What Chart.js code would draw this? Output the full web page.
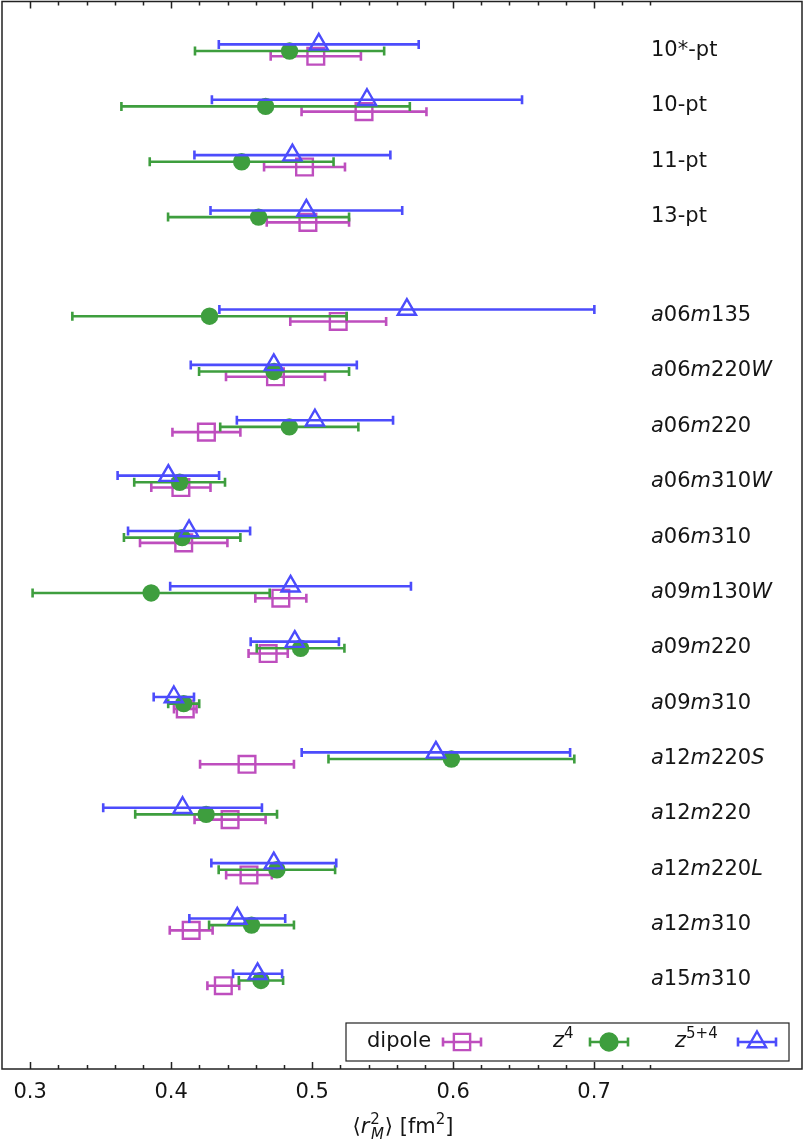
<!DOCTYPE html>
<html>
<head>
<meta charset="utf-8">
<script src="https://cdn.jsdelivr.net/npm/chart.js@4.4.0/dist/chart.umd.min.js"></script>
<style>
html, body { margin: 0; padding: 0; background: #fff; }
#grafico-wrap { width: 806px; height: 1141px; }
</style>
</head>
<body>
<div id="grafico-wrap"><canvas id="graficoRaio" width="806" height="1141" style="width:806px; height:1141px"></canvas></div>
<script>
// ensembles e posicao de cada linha (de cima para baixo)
var ensembles = ['10*-pt', '10-pt', '11-pt', '13-pt', 'a06m135', 'a06m220W', 'a06m220', 'a06m310W',
    'a06m310', 'a09m130W', 'a09m220', 'a09m310', 'a12m220S', 'a12m220', 'a12m220L', 'a12m310', 'a15m310'];
var linhas = [0, 1, 2, 3, 4.79, 5.79, 6.79, 7.79, 8.79, 9.79, 10.79, 11.79, 12.79, 13.79, 14.79, 15.79, 16.79];

var dipoleVal = [0.5026, 0.5368, 0.4946, 0.497, 0.5185, 0.474, 0.425, 0.4069, 0.4089, 0.4778, 0.4688, 0.41, 0.4538, 0.4418, 0.4552, 0.4142, 0.437];
var dipoleErr = [0.032, 0.0443, 0.0287, 0.0292, 0.034, 0.0351, 0.0241, 0.021, 0.031, 0.0181, 0.0139, 0.008, 0.0333, 0.0252, 0.0162, 0.0152, 0.0113];

var z4Val = [0.484, 0.467, 0.45, 0.462, 0.4272, 0.473, 0.4838, 0.406, 0.4078, 0.3858, 0.4918, 0.4089, 0.5988, 0.4248, 0.475, 0.457, 0.4637];
var z4Err = [0.0671, 0.1023, 0.0652, 0.0642, 0.0973, 0.0532, 0.049, 0.0322, 0.0413, 0.0841, 0.0311, 0.011, 0.0872, 0.0503, 0.0413, 0.0301, 0.0157];

var z54Val = [0.5047, 0.5389, 0.486, 0.4959, 0.5672, 0.4728, 0.502, 0.398, 0.4127, 0.4847, 0.4877, 0.4019, 0.5878, 0.4081, 0.4728, 0.4469, 0.4613];
var z54Err = [0.0709, 0.110, 0.0695, 0.068, 0.133, 0.0589, 0.0554, 0.036, 0.0433, 0.0854, 0.0313, 0.0143, 0.0952, 0.0563, 0.0443, 0.034, 0.0174];

var ticksMaiores = [0.3, 0.4, 0.5, 0.6, 0.7];
var rotulosTicks = ['0.3', '0.4', '0.5', '0.6', '0.7'];
var ticksMenores = [0.32, 0.34, 0.36, 0.38, 0.42, 0.44, 0.46, 0.48, 0.52, 0.54, 0.56, 0.58, 0.62, 0.64, 0.66, 0.68, 0.72, 0.74];

var COR_DIPOLE = 'rgb(190,78,190)';
var COR_Z4 = 'rgb(62,158,62)';
var COR_Z54 = 'rgb(76,76,252)';
var FONTE = 'DejaVu Sans';
var COR_TEXTO = '#151515';

function MontarPontos(vals, desloc) {
    return vals.map(function (v, i) { return { x: v, y: linhas[i] + desloc }; });
}

// desenha barra de erro horizontal com as pontas
function BarraErro(ctx, x1, x2, y, cor) {
    ctx.save();
    ctx.strokeStyle = cor;
    ctx.lineWidth = 2.6;
    ctx.beginPath();
    ctx.moveTo(x1, y); ctx.lineTo(x2, y);
    ctx.moveTo(x1, y - 4.5); ctx.lineTo(x1, y + 4.5);
    ctx.moveTo(x2, y - 4.5); ctx.lineTo(x2, y + 4.5);
    ctx.stroke();
    ctx.restore();
}

// texto com partes em italico (letras) e retas (digitos)
function TextoMisto(ctx, partes, x, y, tam) {
    partes.forEach(function (p) {
        ctx.font = (p.it ? 'italic ' : '') + (p.tam || tam) + 'px "' + FONTE + '"';
        var dy = p.dy || 0;
        ctx.fillText(p.t, x, y + dy);
        x += ctx.measureText(p.t).width + (p.esp || 0);
    });
    return x;
}

function LarguraMista(ctx, partes, tam) {
    var w = 0;
    partes.forEach(function (p) {
        ctx.font = (p.it ? 'italic ' : '') + (p.tam || tam) + 'px "' + FONTE + '"';
        w += ctx.measureText(p.t).width + (p.esp || 0);
    });
    return w;
}

function PartesRotulo(nome) {
    if (nome.charAt(0) !== 'a') return [{ t: nome }];
    var pedacos = nome.match(/[0-9]+|[A-Za-z]+/g);
    return pedacos.map(function (s) { return { t: s, it: /[A-Za-z]/.test(s) }; });
}

var pluginErros = {
    id: 'barrasErro',
    beforeDatasetDraw: function (chart, args) {
        var ds = chart.data.datasets[args.index];
        var xs = chart.scales.x;
        var ctx = chart.ctx;
        args.meta.data.forEach(function (pt, i) {
            var v = ds.data[i].x;
            BarraErro(ctx, xs.getPixelForValue(v - ds.erros[i]), xs.getPixelForValue(v + ds.erros[i]), pt.y, ds.borderColor);
        });
    }
};

var pluginMoldura = {
    id: 'moldura',
    afterDraw: function (chart) {
        var ctx = chart.ctx;
        var a = chart.chartArea;
        var xs = chart.scales.x;
        var ys = chart.scales.y;

        // rotulos dos ensembles
        ctx.save();
        ctx.fillStyle = COR_TEXTO;
        ctx.textBaseline = 'middle';
        ensembles.forEach(function (nome, i) {
            TextoMisto(ctx, PartesRotulo(nome), 651, ys.getPixelForValue(linhas[i]), 21);
        });
        ctx.restore();

        // moldura e ticks
        ctx.save();
        ctx.strokeStyle = '#222';
        ctx.lineWidth = 1.5;
        ctx.strokeRect(a.left, a.top, a.right - a.left, a.bottom - a.top);
        ctx.beginPath();
        ticksMaiores.forEach(function (t) {
            var x = Math.round(xs.getPixelForValue(t)) + 0.5;
            ctx.moveTo(x, a.bottom); ctx.lineTo(x, a.bottom - 7);
            ctx.moveTo(x, a.top); ctx.lineTo(x, a.top + 7);
        });
        ticksMenores.forEach(function (t) {
            var x = Math.round(xs.getPixelForValue(t)) + 0.5;
            ctx.moveTo(x, a.bottom); ctx.lineTo(x, a.bottom - 4);
            ctx.moveTo(x, a.top); ctx.lineTo(x, a.top + 4);
        });
        ctx.stroke();

        ctx.fillStyle = COR_TEXTO;
        ctx.font = '21px "' + FONTE + '"';
        ctx.textAlign = 'center';
        ctx.textBaseline = 'alphabetic';
        ticksMaiores.forEach(function (t, i) {
            ctx.fillText(rotulosTicks[i], xs.getPixelForValue(t), 1098);
        });
        ctx.textAlign = 'left';

        // titulo do eixo x: <r_M^2> [fm^2]
        var titulo = [
            { t: '\u27E8' },
            { t: 'r', it: true, esp: 1 },
            { t: '2', tam: 15, dy: -9, esp: -9 },
            { t: 'M', it: true, tam: 15, dy: 6, esp: 1 },
            { t: '\u27E9 [fm' },
            { t: '2', tam: 15, dy: -9 },
            { t: ']' }
        ];
        var w = LarguraMista(ctx, titulo, 21);
        TextoMisto(ctx, titulo, 403 - w / 2, 1133, 21);

        // legenda
        var lx = 346, ly = 1023, lw = 443, lh = 38;
        ctx.fillStyle = '#fff';
        ctx.fillRect(lx, ly, lw, lh);
        ctx.strokeStyle = '#222';
        ctx.lineWidth = 1.2;
        ctx.strokeRect(lx, ly, lw, lh);
        var cy = ly + 19;
        ctx.fillStyle = COR_TEXTO;
        ctx.textBaseline = 'middle';
        TextoMisto(ctx, [{ t: 'dipole' }], 367, cy, 21);
        TextoMisto(ctx, [{ t: 'z', it: true }, { t: '4', tam: 15, dy: -8 }], 553, cy, 21);
        TextoMisto(ctx, [{ t: 'z', it: true }, { t: '5+4', tam: 15, dy: -8 }], 675, cy, 21);

        var itens = [
            { xc: 462, cor: COR_DIPOLE, estilo: 'rect', r: 11.5, cheio: false },
            { xc: 609, cor: COR_Z4, estilo: 'circle', r: 8.5, cheio: true },
            { xc: 757, cor: COR_Z54, estilo: 'triangle', r: 10.5, cheio: false }
        ];
        itens.forEach(function (it) {
            BarraErro(ctx, it.xc - 19, it.xc + 19, cy, it.cor);
            ctx.strokeStyle = it.cor;
            ctx.fillStyle = it.cheio ? it.cor : 'rgba(0,0,0,0)';
            ctx.lineWidth = 2.4;
            Chart.helpers.drawPoint(ctx, { pointStyle: it.estilo, radius: it.r, rotation: 0, borderWidth: 2.4 }, it.xc, cy);
        });
        ctx.restore();
    }
};

var ctx = document.getElementById('graficoRaio').getContext('2d');

var grafico = new Chart(ctx, {
    type: 'scatter',
    data: {
        datasets: [
            {
                label: 'z5+4',
                data: MontarPontos(z54Val, -0.11),
                erros: z54Err,
                borderColor: COR_Z54,
                backgroundColor: 'rgba(0,0,0,0)',
                pointStyle: 'triangle',
                pointRadius: 10.5,
                pointBorderWidth: 2.4
            },
            {
                label: 'z4',
                data: MontarPontos(z4Val, 0.01),
                erros: z4Err,
                borderColor: COR_Z4,
                backgroundColor: COR_Z4,
                pointStyle: 'circle',
                pointRadius: 8.7,
                pointBorderWidth: 0
            },
            {
                label: 'dipole',
                data: MontarPontos(dipoleVal, 0.105),
                erros: dipoleErr,
                borderColor: COR_DIPOLE,
                backgroundColor: 'rgba(0,0,0,0)',
                pointStyle: 'rect',
                pointRadius: 11.8,
                pointBorderWidth: 2.4
            }
        ]
    },
    options: {
        responsive: false,
        devicePixelRatio: 1,
        animation: false,
        events: [],
        layout: { autoPadding: false, padding: { left: 2, top: 1.5, right: 4, bottom: 72 } },
        plugins: {
            legend: { display: false },
            tooltip: { enabled: false }
        },
        scales: {
            x: { type: 'linear', min: 0.28, max: 0.8475, display: false },
            y: { type: 'linear', min: -0.885, max: 18.4, reverse: true, display: false }
        }
    },
    plugins: [pluginErros, pluginMoldura]
});
</script>
</body>
</html>
